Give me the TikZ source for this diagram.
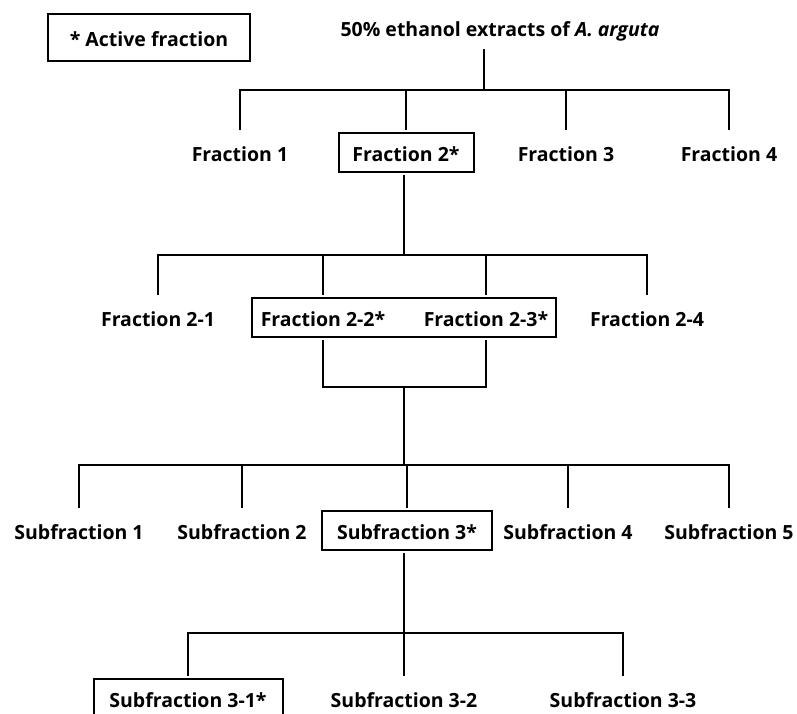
\documentclass[tikz,border=0pt]{standalone}
\usepackage{fontspec}
\setmainfont{Open Sans}
\usetikzlibrary{positioning}

\begin{document}
\begin{tikzpicture}[x=1pt, y=-1pt, line width=1.5pt,
    frac/.style={font=\bfseries\fontsize{19.5}{23}\selectfont, text height=17pt, text depth=0pt,
        minimum height=39pt, inner sep=2pt, outer sep=3pt},
    activebox/.style={frac, draw, line width=2pt},
]
\useasboundingbox (0,0) rectangle (797,713);
\clip (0,0) rectangle (797,713);

% Legend and extract
\node[activebox, line width=1.7pt, minimum width=202pt, minimum height=47pt] (key) at (149,37.5) {* Active fraction};
\node[frac, minimum height=0pt, outer sep=11pt] (root) at (500,27.5) {50\% ethanol extracts of \textit{A. arguta}};

% Fractions
\node[frac] (f1) at (240,152.5) {Fraction 1};
\node[activebox, minimum width=135pt] (f2) at (406,152.5) {Fraction 2*};
\node[frac] (f3) at (566,152.5) {Fraction 3};
\node[frac] (f4) at (729,152.5) {Fraction 4};

% Fractions 2-x
\node[activebox, minimum width=304pt] (f2pair) at (404,317.5) {};
\node[frac] (f21) at (158,317.5) {Fraction 2-1};
\node[frac] (f22) at (323,317.5) {Fraction 2-2*};
\node[frac] (f23) at (486,317.5) {Fraction 2-3*};
\node[frac] (f24) at (647,317.5) {Fraction 2-4};

% Subfractions
\node[frac] (s1) at (79,530.5) {Subfraction 1};
\node[frac] (s2) at (242,530.5) {Subfraction 2};
\node[activebox, minimum width=170pt] (s3) at (407,530.5) {Subfraction 3*};
\node[frac] (s4) at (568,530.5) {Subfraction 4};
\node[frac] (s5) at (729,530.5) {Subfraction 5};

% Subfractions 3-x
\node[activebox, minimum width=189pt] (t1) at (188,698.5) {Subfraction 3-1*};
\node[frac] (t2) at (404,698.5) {Subfraction 3-2};
\node[frac] (t3) at (623,698.5) {Subfraction 3-3};

% Junctions
\coordinate (j1) at (484,90);
\coordinate (j2) at (404,255);
\coordinate (j3) at (404,387);
\coordinate (j4) at (404,465);
\coordinate (j5) at (404,633);

% Tree lines
\draw (root.south -| j1) -- (j1);
\draw (f1.north) |- (j1) -| (f4.north);
\foreach \n in {f2,f3} {
    \draw (\n.north) -- (\n.north |- j1);
}

\draw (f2.south -| j2) -- (j2);
\draw (f21.north) |- (j2) -| (f24.north);
\foreach \n in {f22,f23} {
    \draw (\n.north) -- (\n.north |- j2);
}

\draw (f22.south) |- (j3) -| (f23.south);
\draw (j3) -- (j4);
\draw (s1.north) |- (j4) -| (s5.north);
\foreach \n in {s2,s3,s4} {
    \draw (\n.north) -- (\n.north |- j4);
}

\draw (s3.south -| j5) -- (j5);
\draw (t1.north) |- (j5) -| (t3.north);
\draw (t2.north) -- (j5);
\end{tikzpicture}
\end{document}
